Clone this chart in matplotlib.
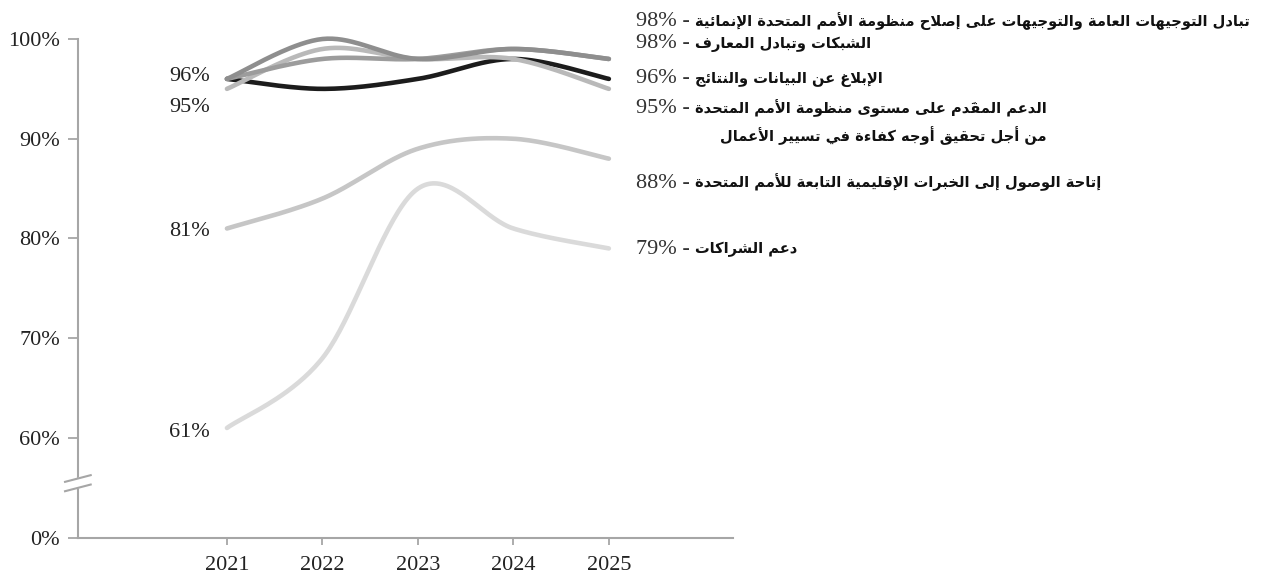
import matplotlib
matplotlib.use('Agg')

import matplotlib.pyplot as plt
import numpy as np

years = [2021, 2022, 2023, 2024, 2025]

# one list per line, values in percent
guidance = [96, 100, 98, 99, 98]
networks = [96, 98, 98, 99, 98]
reporting = [96, 95, 96, 98, 96]
efficiency = [95, 99, 98, 98, 95]
regional = [81, 84, 89, 90, 88]
partnerships = [61, 68, 85, 81, 79]

labels_ar = [
    'تبادل التوجيهات العامة والتوجيهات على إصلاح منظومة الأمم المتحدة الإنمائية',
    'الشبكات وتبادل المعارف',
    'الإبلاغ عن البيانات والنتائج',
    'الدعم المقدَم على مستوى منظومة الأمم المتحدة\nمن أجل تحقيق أوجه كفاءة في تسيير الأعمال',
    'إتاحة الوصول إلى الخبرات الإقليمية التابعة للأمم المتحدة',
    'دعم الشراكات',
]

ytick_values = [0, 60, 70, 80, 90, 100]

series = [guidance, networks, reporting, efficiency, regional, partnerships]
colors = ['#8e8e8e', '#9c9c9c', '#1c1c1c', '#b9b9b9', '#c6c6c6', '#dadada']
draw_order = [5, 4, 2, 3, 1, 0]
# label offsets in pixels (start label, end label) to keep them apart
start_dy = {0: -2.6, 3: -23, 4: -7.6, 5: -9}
end_dy = [33, 11, -4.6, -24.6, -28.9, -5.1]
line_gap = 28

# ---- tiny arabic shaper (no bidi libs here) ----
AR_MARKS = set(chr(c) for c in range(0x064B, 0x0653))
AR_DUAL = dict(zip('ئبتثجحخسشصضطظعغفقكلمنهي',
                   [0xFE89, 0xFE8F, 0xFE95, 0xFE99, 0xFE9D, 0xFEA1, 0xFEA5, 0xFEB1,
                    0xFEB5, 0xFEB9, 0xFEBD, 0xFEC1, 0xFEC5, 0xFEC9, 0xFECD, 0xFED1,
                    0xFED5, 0xFED9, 0xFEDD, 0xFEE1, 0xFEE5, 0xFEE9, 0xFEF1]))
AR_RIGHT = dict(zip('آأؤإاةدذرزوى',
                    [0xFE81, 0xFE83, 0xFE85, 0xFE87, 0xFE8D, 0xFE93, 0xFEA9, 0xFEAB,
                     0xFEAD, 0xFEAF, 0xFEED, 0xFEEF]))
LAM_ALEF = dict(zip('آأإا', [0xFEF5, 0xFEF7, 0xFEF9, 0xFEFB]))


def ar_kind(u):
    if u.startswith('LA') and len(u) == 3:
        return 'R'
    if u in AR_DUAL:
        return 'D'
    if u in AR_RIGHT:
        return 'R'
    return None


def shape_ar(text):
    # presentation forms + reversed order, marks stay after their letter
    units = []
    i = 0
    while i < len(text):
        ch = text[i]
        if ch in AR_MARKS and units:
            units[-1][1].append(ch)
            i += 1
            continue
        if ch == 'ل' and i + 1 < len(text) and text[i + 1] in LAM_ALEF:
            units.append(['LA' + text[i + 1], []])
            i += 2
            continue
        units.append([ch, []])
        i += 1
    out = []
    for k, (u, marks) in enumerate(units):
        kd = ar_kind(u)
        jp = k > 0 and ar_kind(units[k - 1][0]) == 'D'
        jn = kd == 'D' and k + 1 < len(units) and ar_kind(units[k + 1][0]) is not None
        if kd == 'D':
            g = chr(AR_DUAL[u] + int(jp) + 2 * int(jn))
        elif kd == 'R':
            base = LAM_ALEF[u[2]] if u.startswith('LA') else AR_RIGHT[u]
            g = chr(base + int(jp))
        else:
            g = u
        out.append(g + ''.join(marks))
    return ''.join(reversed(out))


def smooth(x, y, n=40):
    # excel-like smoothed line (catmull-rom as cubic bezier)
    p = np.column_stack([x, y]).astype(float)
    xs, ys = [], []
    for i in range(len(p) - 1):
        p0 = p[i - 1] if i > 0 else p[i]
        p1, p2 = p[i], p[i + 1]
        p3 = p[i + 2] if i + 2 < len(p) else p[i + 1]
        c1 = p1 + (p2 - p0) / 6.
        c2 = p2 - (p3 - p1) / 6.
        t = np.linspace(0, 1, n)[:, None]
        b = (1 - t)**3 * p1 + 3 * (1 - t)**2 * t * c1 + 3 * (1 - t) * t**2 * c2 + t**3 * p2
        xs.append(b[:, 0])
        ys.append(b[:, 1])
    return np.concatenate(xs), np.concatenate(ys)


def to_axis(v):
    # broken axis: 0% sits one step below 60%
    return 50 if v == 0 else v


serif = 'Liberation Serif'
text_color = '#222222'
axis_color = '#a6a6a6'
ar_style = dict(fontfamily='DejaVu Sans', fontweight='bold', fontsize=10.5, color='#111111',
                annotation_clip=False)

fig = plt.figure(figsize=(12.63, 5.79), dpi=100)
ax = fig.add_axes([78 / 1263, 1 - 537.7 / 579, 655 / 1263, (537.7 - 39) / 579])

for idx in draw_order:
    xs, ys = smooth(years, series[idx])
    ax.plot(xs, ys, color=colors[idx], lw=3.3, solid_capstyle='round', clip_on=False)

ax.set_xlim(2019.44, 2026.30)
ax.set_ylim(50, 100)
ax.set_xticks(years)
ax.set_xticklabels([str(y) for y in years], fontfamily=serif, fontsize=16, color=text_color)
ax.set_yticks([to_axis(v) for v in ytick_values])
ax.set_yticklabels(['%d%%' % v for v in ytick_values], fontfamily=serif, fontsize=16,
                   color=text_color)
ax.tick_params(axis='y', length=7, width=1.3, color=axis_color, pad=6)
ax.tick_params(axis='x', length=5, width=1.3, color=axis_color, pad=8)

for side in ['top', 'right']:
    ax.spines[side].set_visible(False)
for side in ['left', 'bottom']:
    ax.spines[side].set_color(axis_color)
    ax.spines[side].set_linewidth(1.5)

# break marks on the y axis
brk = ax.get_yaxis_transform()
ax.fill([-0.0198, 0.0194, 0.0194, -0.0198], [54.66, 55.33, 56.27, 55.60], color='white',
        transform=brk, clip_on=False, zorder=5)
for y0 in (54.66, 55.60):
    ax.plot([-0.0198, 0.0194], [y0, y0 + 0.67], color=axis_color, lw=1.5,
            transform=brk, clip_on=False, zorder=6)

# start values on the left
for idx, dy in start_dy.items():
    ax.annotate('%d%%' % series[idx][0], xy=(years[0], series[idx][0]), xytext=(-17, dy),
                textcoords='offset pixels', ha='right', va='baseline',
                fontfamily=serif, fontsize=16, color=text_color, annotation_clip=False)

# end values + arabic names on the right
for idx in range(len(series)):
    val = series[idx][-1]
    pct = ax.annotate('%d%% -' % val, xy=(years[-1], val),
                      xytext=(27, end_dy[idx]), textcoords='offset pixels',
                      ha='left', va='baseline', fontfamily=serif, fontsize=16,
                      color='#333333', annotation_clip=False)
    lines = labels_ar[idx].split('\n')
    first = ax.annotate(shape_ar(lines[0]), xy=(1, val), xycoords=(pct, 'data'),
                        xytext=(5, end_dy[idx]), textcoords='offset pixels',
                        ha='left', va='baseline', **ar_style)
    for k, extra in enumerate(lines[1:], start=1):
        # wrapped lines are right-aligned under the first one
        ax.annotate(shape_ar(extra), xy=(1, val), xycoords=(first, 'data'),
                    xytext=(0, end_dy[idx] - k * line_gap), textcoords='offset pixels',
                    ha='right', va='baseline', **ar_style)

plt.savefig('out.png', dpi=100)
